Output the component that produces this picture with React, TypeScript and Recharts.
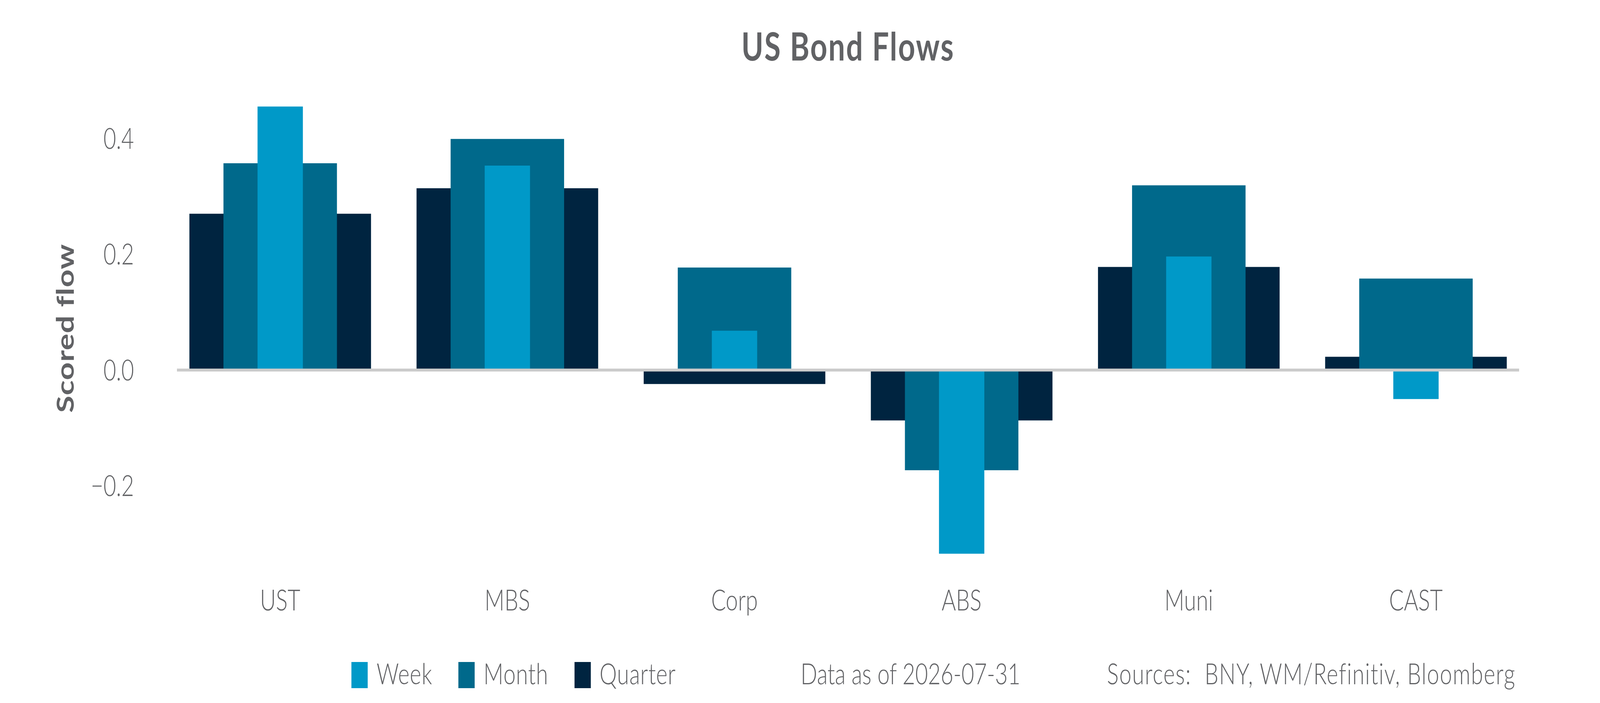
import React from 'react';
import { BarChart, Bar, XAxis, YAxis, ReferenceLine } from 'recharts';

// values
const CATEGORIES = ['UST', 'MBS', 'Corp', 'ABS', 'Muni', 'CAST'];
const WEEK = [0.455, 0.353, 0.068, -0.317, 0.196, -0.05];
const MONTH = [0.357, 0.399, 0.177, -0.173, 0.319, 0.158];
const QUARTER = [0.27, 0.314, -0.024, -0.087, 0.178, 0.023];
const Y_TICKS = [-0.2, 0, 0.2, 0.4];

const SERIES = [
  { key: 'week', name: 'Week', color: '#0099c8' },
  { key: 'month', name: 'Month', color: '#00698b' },
  { key: 'quarter', name: 'Quarter', color: '#002440' },
];

const data = CATEGORIES.map((name, i) => ({
  name,
  week: WEEK[i],
  month: MONTH[i],
  quarter: QUARTER[i],
}));

const W = 5400;
const H = 1800;
const GREY = '#616265';
const FONT = 'Lato, "Open Sans", sans-serif';

const fmt = (v: number) => (v < 0 ? `\u2212${Math.abs(v).toFixed(1)}` : v.toFixed(1));

const ZeroLine = (p: any) => (
  <line x1={p.x1 + 35} x2={p.x2 - 35} y1={p.y1} y2={p.y2} stroke="#cbcbcb" strokeWidth={7.5} />
);

const AxisTitle = (p: any) => {
  const vb = p.viewBox || { x: 0, y: 0, height: 0 };
  return (
    <text
      transform={`translate(${vb.x + 249}, ${vb.y + vb.height / 2 - 6}) rotate(-90)`}
      textAnchor="middle"
      fill={GREY}
      fontFamily={FONT}
      fontWeight={700}
      fontSize={80}
      letterSpacing={1}
    >
      Scored flow
    </text>
  );
};

const footText: React.CSSProperties = {
  position: 'absolute',
  top: 1687,
  fontFamily: FONT,
  fontWeight: 300,
  fontSize: 74,
  lineHeight: '74px',
  color: GREY,
  whiteSpace: 'pre',
};

export default function App() {
  // the browser window may be smaller than the 5400x1800 artboard; fit it
  const sx = Math.min(1, window.innerWidth / W);
  const sy = Math.min(1, window.innerHeight / H);

  return (
    <div style={{ position: 'fixed', left: 0, top: 0, width: '100vw', height: '100vh', overflow: 'hidden', background: '#fff' }}>
      <div
        style={{
          position: 'absolute',
          left: 0,
          top: 0,
          width: W,
          height: H,
          background: '#fff',
          transform: `scale(${sx}, ${sy})`,
          transformOrigin: '0 0',
        }}
      >
        <div
          style={{
            position: 'absolute',
            left: 562,
            width: 4600,
            top: 66,
            textAlign: 'center',
            fontFamily: FONT,
            fontWeight: 700,
            fontSize: 100,
            lineHeight: '100px',
            letterSpacing: 3.5,
            color: GREY,
          }}
        >
          US Bond Flows
        </div>

        <BarChart width={W} height={H} data={data} margin={{ top: 235.7, right: 238, bottom: 242.3, left: 0 }}>
          <XAxis
            xAxisId="q"
            dataKey="name"
            height={100}
            axisLine={false}
            tickLine={false}
            tickSize={0}
            tickMargin={23}
            tick={{ fill: GREY, fontSize: 74, fontFamily: FONT, fontWeight: 300 }}
          />
          <XAxis xAxisId="m" dataKey="name" hide />
          <XAxis xAxisId="w" dataKey="name" hide />
          <YAxis
            type="number"
            domain={[-0.344, 0.48]}
            ticks={Y_TICKS}
            width={562.2}
            axisLine={false}
            tickLine={false}
            tickSize={0}
            tickMargin={110}
            tickFormatter={fmt}
            tick={{ fill: GREY, fontSize: 74, fontFamily: FONT, fontWeight: 300 }}
            label={{ content: AxisTitle }}
          />
          <Bar xAxisId="q" dataKey="quarter" name="Quarter" fill="#002440" barSize={613} isAnimationActive={false} />
          <Bar xAxisId="m" dataKey="month" name="Month" fill="#00698b" barSize={383} isAnimationActive={false} />
          <Bar xAxisId="w" dataKey="week" name="Week" fill="#0099c8" barSize={153} isAnimationActive={false} />
          <ReferenceLine xAxisId="q" y={0} shape={ZeroLine} />
        </BarChart>

        <div style={{ ...footText, left: 1186, display: 'flex', gap: 88, letterSpacing: 1 }}>
          {SERIES.map((s) => (
            <div key={s.key} style={{ display: 'flex', alignItems: 'flex-start' }}>
              <span style={{ width: 55, height: 67, marginTop: 8, marginRight: 30, background: s.color }} />
              <span>{s.name}</span>
            </div>
          ))}
        </div>
        <div style={{ ...footText, left: 2702 }}>Data as of 2026-07-31</div>
        <div style={{ ...footText, left: 3736, letterSpacing: 2.2 }}>{'Sources:  BNY, WM/Refinitiv, Bloomberg'}</div>
      </div>
    </div>
  );
}
